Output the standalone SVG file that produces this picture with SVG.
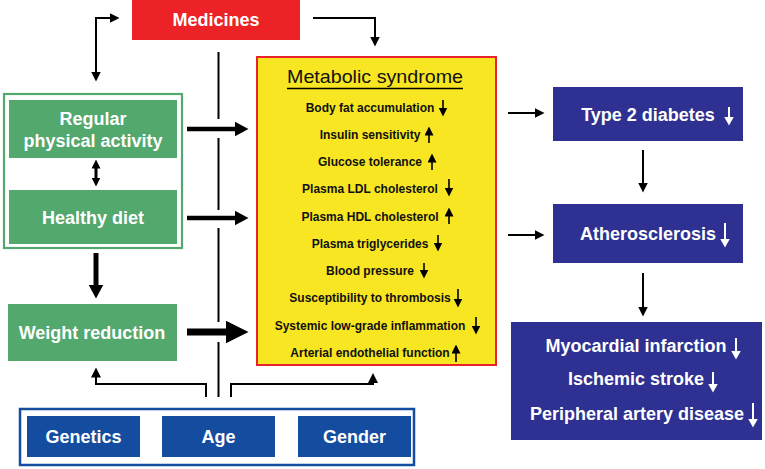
<svg xmlns="http://www.w3.org/2000/svg" width="765" height="469" viewBox="0 0 765 469">
<style>
  .wt { font-family: "Liberation Sans", Arial, sans-serif; font-weight: bold; fill: #ffffff; text-anchor: middle; font-size: 18px; }
  .it { font-family: "Liberation Sans", Arial, sans-serif; font-weight: bold; fill: #111111; text-anchor: middle; font-size: 12px; }
  .ttl { font-family: "Liberation Sans", Arial, sans-serif; fill: #111111; text-anchor: middle; font-size: 18.5px; }
  .green { fill: #53a86d; }
  .navy { fill: #2e3191; }
  .blue { fill: #144d9f; }
  .ln { fill: none; stroke: #000; }
</style>
<defs>
  <marker id="ah10" markerUnits="userSpaceOnUse" markerWidth="10" markerHeight="10" refX="0.5" refY="5" orient="auto-start-reverse">
    <path d="M0,0 L10,5 L0,10 z" fill="#000"/>
  </marker>
  <marker id="ah14" markerUnits="userSpaceOnUse" markerWidth="14" markerHeight="15" refX="0.5" refY="7.5" orient="auto-start-reverse">
    <path d="M0,0 L14,7.5 L0,15 z" fill="#000"/>
  </marker>
  <marker id="ah23" markerUnits="userSpaceOnUse" markerWidth="23" markerHeight="23" refX="0.5" refY="11.5" orient="auto-start-reverse">
    <path d="M0,0 L23,11.5 L0,23 z" fill="#000"/>
  </marker>
  <marker id="ah8" markerUnits="userSpaceOnUse" markerWidth="9" markerHeight="9" refX="0.5" refY="4.5" orient="auto-start-reverse">
    <path d="M0,0 L9,4.5 L0,9 z" fill="#000"/>
  </marker>
  <marker id="ahw" markerUnits="userSpaceOnUse" markerWidth="9" markerHeight="10" refX="0.5" refY="5" orient="auto">
    <path d="M0,0 L9,5 L0,10 z" fill="#fff"/>
  </marker>
</defs>

<g id="medicines">
  <rect x="132" y="0" width="168" height="40" fill="#ed2227"/>
  <text class="wt" x="216" y="26">Medicines</text>
</g>

<g id="lifestyle">
  <rect x="4" y="94" width="178" height="154" fill="none" stroke="#53a86d" stroke-width="2.2"/>
</g>
<g id="activity">
  <rect class="green" x="9" y="100" width="168" height="58"/>
  <text class="wt" x="93" y="125">Regular</text>
  <text class="wt" x="93" y="147">physical activity</text>
</g>
<g id="diet">
  <rect class="green" x="9" y="190" width="168" height="54"/>
  <text class="wt" x="93" y="224">Healthy diet</text>
</g>
<g id="weight">
  <rect class="green" x="8" y="304" width="169" height="57"/>
  <text class="wt" x="92" y="339">Weight reduction</text>
</g>

<g id="metabolic-syndrome">
  <rect x="257" y="57" width="239" height="308" fill="#f8e622" stroke="#e8232a" stroke-width="2"/>
  <text class="ttl" x="375" y="83" textLength="176" lengthAdjust="spacingAndGlyphs">Metabolic syndrome</text>
  <line x1="287" y1="88.5" x2="463" y2="88.5" stroke="#000" stroke-width="1.5"/>
  <text class="it" x="370" y="111.5">Body fat accumulation</text>
  <text class="it" x="370" y="138.8">Insulin sensitivity</text>
  <text class="it" x="370" y="166">Glucose tolerance</text>
  <text class="it" x="370" y="193.3">Plasma LDL cholesterol</text>
  <text class="it" x="370" y="220.5">Plasma HDL cholesterol</text>
  <text class="it" x="370" y="247.8">Plasma triglycerides</text>
  <text class="it" x="370" y="275">Blood pressure</text>
  <text class="it" x="370" y="302.3">Susceptibility to thrombosis</text>
  <text class="it" x="370" y="329.5">Systemic low-grade inflammation</text>
  <text class="it" x="370" y="356.8">Arterial endothelial function</text>
  <g class="ln" stroke-width="1.6">
    <path d="M443,100 V108" marker-end="url(#ah8)"/>
    <path d="M429,143 V135" marker-end="url(#ah8)"/>
    <path d="M432,170 V162" marker-end="url(#ah8)"/>
    <path d="M449,179 V188" marker-end="url(#ah8)"/>
    <path d="M449,224 V216" marker-end="url(#ah8)"/>
    <path d="M438,235 V243" marker-end="url(#ah8)"/>
    <path d="M424,263 V270" marker-end="url(#ah8)"/>
    <path d="M458,289 V299" marker-end="url(#ah8)"/>
    <path d="M476,317 V326" marker-end="url(#ah8)"/>
    <path d="M456,362 V353" marker-end="url(#ah8)"/>
  </g>
</g>

<g id="diabetes">
  <rect class="navy" x="553" y="87" width="190" height="54"/>
  <text class="wt" x="648" y="121">Type 2 diabetes</text>
  <path d="M729,107 V117" stroke="#fff" stroke-width="2" marker-end="url(#ahw)"/>
</g>
<g id="atherosclerosis">
  <rect class="navy" x="553" y="204" width="190" height="59"/>
  <text class="wt" x="648" y="240">Atherosclerosis</text>
  <path d="M725,223 V239" stroke="#fff" stroke-width="2" marker-end="url(#ahw)"/>
</g>
<g id="outcomes">
  <rect class="navy" x="511" y="322" width="251" height="118"/>
  <text class="wt" x="636" y="352" font-size="17.5">Myocardial infarction</text>
  <text class="wt" x="636" y="385" font-size="17.5">Ischemic stroke</text>
  <text class="wt" x="637" y="420" font-size="17.5">Peripheral artery disease</text>
  <path d="M736,338 V351" stroke="#fff" stroke-width="2" marker-end="url(#ahw)"/>
  <path d="M713,372 V384" stroke="#fff" stroke-width="2" marker-end="url(#ahw)"/>
  <path d="M753,403 V419" stroke="#fff" stroke-width="2" marker-end="url(#ahw)"/>
</g>

<g id="factors">
  <rect x="20" y="409" width="394" height="56" fill="none" stroke="#144d9f" stroke-width="2.5"/>
</g>
<g id="genetics">
  <rect class="blue" x="27" y="416" width="113" height="41"/>
  <text class="wt" x="83.5" y="443">Genetics</text>
</g>
<g id="age">
  <rect class="blue" x="162" y="416" width="113" height="41"/>
  <text class="wt" x="218.5" y="443">Age</text>
</g>
<g id="gender">
  <rect class="blue" x="298" y="416" width="113" height="41"/>
  <text class="wt" x="354.5" y="443">Gender</text>
</g>

<g id="connectors" class="ln">
  <path d="M96,72 V18 H110" stroke-width="2" marker-start="url(#ah10)" marker-end="url(#ah10)"/>
  <path d="M313,18 H375 V37" stroke-width="2" marker-end="url(#ah10)"/>
  <path d="M187,129 H235" stroke-width="4.5" marker-end="url(#ah14)"/>
  <path d="M187,218 H235" stroke-width="4.5" marker-end="url(#ah14)"/>
  <path d="M187,332 H226" stroke-width="7" marker-end="url(#ah23)"/>
  <path d="M96,253 V285" stroke-width="5" marker-end="url(#ah14)"/>
  <path d="M96,168 V178" stroke-width="3" marker-start="url(#ah8)" marker-end="url(#ah8)"/>
  <path d="M218.5,52 V119 M218.5,138 V210 M218.5,228 V322 M218.5,342 V397" stroke-width="2"/>
  <path d="M206,397 V384 H96 V377" stroke-width="2" marker-end="url(#ah10)"/>
  <path d="M231,397 V384 H373 V382.5" stroke-width="2" marker-end="url(#ah10)"/>
  <path d="M508,113 H535" stroke-width="2" marker-end="url(#ah10)"/>
  <path d="M508,235 H535" stroke-width="2" marker-end="url(#ah10)"/>
  <path d="M643,150 V183" stroke-width="2" marker-end="url(#ah10)"/>
  <path d="M643,273 V307" stroke-width="2" marker-end="url(#ah10)"/>
</g>
</svg>
